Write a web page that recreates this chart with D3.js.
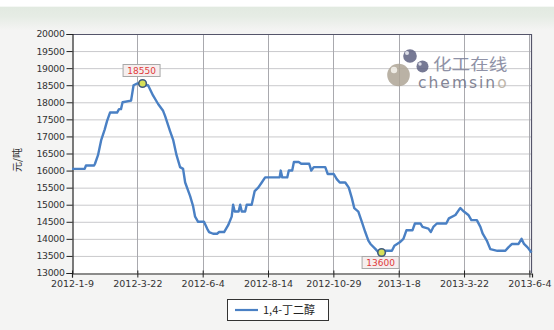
<!DOCTYPE html>
<html>
<head>
<meta charset="utf-8">
<script src="https://cdn.jsdelivr.net/npm/d3@7"></script>
<style>
  html, body { margin: 0; padding: 0; background: #f4f4f3; }
  svg { display: block; }
</style>
</head>
<body>
<svg id="chart" width="554" height="330"></svg>
<script>
// Trading-day offsets from 2012-1-9 and the 1,4-丁二醇 price (元/吨) on each
const tradingDays = [
  0, 9.7, 10.7, 16.9, 17.6, 19.9, 22.4, 25, 26.8, 29.1, 34.5, 36, 37.5, 38.7, 45.2, 47.1, 49.8, 54,
  56.7, 58.2, 62, 65.9, 69.7, 71.2, 75.1, 77.4, 80, 82.7, 85, 86.6, 90.4, 92.7, 94.2, 96.5, 101,
  103.4, 104.9, 108, 111, 112.6, 116.4, 119.5, 122.2, 123.3, 124.5, 127.5, 128.7, 129.9, 132.5,
  133.7, 137.5, 139.8, 142.5, 145.2, 147.8, 158.9, 159.7, 160.9, 164.7, 165.9, 168.5, 169.8,
  173.5, 175.4, 181.5, 183.1, 185, 193.8, 195.7, 200.3, 202.6, 204.9, 209.1, 211.8, 214.1, 216,
  219.1, 221.8, 224.4, 226.8, 228.4, 232.3, 234.6, 236.9, 239.9, 244.8, 246.7, 250.8, 253.6,
  255.9, 260.5, 262.4, 266.6, 268.2, 272.7, 274.6, 276.5, 279.2, 286.4, 288.4, 293.4, 296.1,
  297.2, 299.9, 303.3, 305.6, 309.8, 312.5, 314.3, 317.4, 320.1, 325.5, 329.3, 331.6, 333.9,
  336.7, 341.7, 344, 345.9, 348.6, 351.6
];
const prices = [
  16050, 16050, 16150, 16150, 16200, 16450, 16900, 17200, 17450, 17700, 17700, 17800, 17800, 18000, 18050, 18500, 18550, 18550,
  18500, 18500, 18200, 17950, 17750, 17600, 17150, 16900, 16450, 16100, 16050, 15650, 15250, 14950, 14650, 14500, 14500,
  14300, 14200, 14150, 14150, 14200, 14200, 14400, 14650, 15000, 14800, 14800, 15000, 14800, 14800,
  15000, 15000, 15400, 15500, 15650, 15800, 15800, 16000, 15800, 15800, 16000, 16000, 16250,
  16250, 16200, 16200, 16000, 16100, 16100, 15900, 15900, 15750, 15650, 15650, 15500, 15200, 14900,
  14800, 14500, 14200, 13950, 13850, 13700, 13600, 13600, 13650, 13650, 13800, 13900, 14000,
  14250, 14250, 14450, 14450, 14350, 14300, 14200, 14350, 14450, 14450, 14600, 14700, 14850,
  14900, 14800, 14700, 14550, 14550, 14350, 14150, 13950, 13700, 13650, 13650, 13650, 13750,
  13850, 13850, 14000, 13850, 13750, 13600
];

// Axis labels
const xTickDays = [0, 50, 100, 150, 200, 250, 300, 350];
const xTickLabels = ["2012-1-9", "2012-3-22", "2012-6-4", "2012-8-14", "2012-10-29", "2013-1-8", "2013-3-22", "2013-6-4"];
const yTicks = [13000, 13500, 14000, 14500, 15000, 15500, 16000, 16500, 17000, 17500, 18000, 18500, 19000, 19500, 20000];
const seriesName = "1,4-丁二醇";
const yTitle = "元/吨";

// The highest and lowest prices get a value tag, placed on the last day
// of the first run in which that price held
function endOfFirstRun(v) {
  let i = prices.indexOf(v);
  while (i + 1 < prices.length && prices[i + 1] === v) i++;
  return i;
}
const maxIdx = endOfFirstRun(d3.max(prices));
const minIdx = endOfFirstRun(d3.min(prices));

const svg = d3.select("#chart");
const W = 554, H = 330;
const m = { left: 72, right: 22, top: 34, bottom: 57 };
const plotW = W - m.left - m.right;
const plotH = H - m.top - m.bottom;

// Page background with the pale band across the top
const defs = svg.append("defs");
const band = defs.append("linearGradient").attr("id", "band").attr("x1", 0).attr("y1", 0).attr("x2", 0).attr("y2", 1);
band.append("stop").attr("offset", "0").attr("stop-color", "#ffffff");
band.append("stop").attr("offset", "0.2").attr("stop-color", "#ffffff");
band.append("stop").attr("offset", "0.25").attr("stop-color", "#e2eae1");
band.append("stop").attr("offset", "0.55").attr("stop-color", "#e6ece5");
band.append("stop").attr("offset", "1").attr("stop-color", "#f4f4f3");
svg.append("rect").attr("width", W).attr("height", 30).attr("fill", "url(#band)");

const x = d3.scaleLinear().domain([0, 352]).range([m.left, m.left + plotW]);
const y = d3.scaleLinear().domain([13000, 20000]).range([m.top + plotH, m.top]);

// Plot background
svg.append("rect")
  .attr("x", m.left).attr("y", m.top).attr("width", plotW).attr("height", plotH)
  .attr("fill", "#ffffff");

// Horizontal grid lines
svg.append("g").selectAll("line").data(yTicks.slice(1)).join("line")
  .attr("x1", m.left).attr("x2", m.left + plotW)
  .attr("y1", d => y(d) + 0.5).attr("y2", d => y(d) + 0.5)
  .attr("stroke", "#c9c9cc").attr("stroke-width", 1);

// Vertical grid lines
svg.append("g").selectAll("line").data(xTickDays.slice(1)).join("line")
  .attr("x1", d => Math.round(x(d)) + 0.5).attr("x2", d => Math.round(x(d)) + 0.5)
  .attr("y1", m.top).attr("y2", m.top + plotH)
  .attr("stroke", "#a9a9ae").attr("stroke-width", 1);

// Frame on top and right
svg.append("path")
  .attr("d", `M${m.left},${m.top + 0.5}H${m.left + plotW - 0.5}V${m.top + plotH}`)
  .attr("fill", "none").attr("stroke", "#55556a").attr("stroke-width", 1.2);

// Watermark logo
const logo = svg.append("g").attr("opacity", 0.85);
logo.append("circle").attr("cx", 398.5).attr("cy", 75).attr("r", 11.3).attr("fill", "#aea596");
logo.append("circle").attr("cx", 394).attr("cy", 70).attr("r", 3.2).attr("fill", "#ece8e0");
logo.append("circle").attr("cx", 410).attr("cy", 56).attr("r", 6.8).attr("fill", "#5f6282");
logo.append("circle").attr("cx", 422.5).attr("cy", 66.5).attr("r", 6).attr("fill", "#5f6282");
logo.append("circle").attr("cx", 407).attr("cy", 53).attr("r", 2).attr("fill", "#d8dae4");
logo.append("circle").attr("cx", 420).attr("cy", 64).attr("r", 1.7).attr("fill", "#d8dae4");
logo.append("text")
  .attr("transform", "translate(433,69.5) scale(1.2,1)")
  .attr("font-family", "Noto Sans CJK SC").attr("font-size", 15.5)
  .attr("fill", "#7c7f98").text("化工在线");
const brand = logo.append("text").attr("x", 418).attr("y", 88)
  .attr("font-family", "DejaVu Sans").attr("font-size", 15.5)
  .attr("letter-spacing", 2).attr("fill", "#6e7084");
brand.append("tspan").text("chemsin");
brand.append("tspan").attr("fill", "#b6ac9c").text("o");

// Y axis
const yAxis = d3.axisLeft(y).tickValues(yTicks).tickSize(6).tickPadding(2).tickFormat(d3.format("d"));
const gy = svg.append("g").attr("transform", `translate(${m.left + 0.5},0)`).call(yAxis);
gy.select(".domain").attr("stroke", "#222").attr("stroke-width", 1.2);
gy.selectAll(".tick line").attr("stroke", "#222");
gy.selectAll("text").attr("font-family", "DejaVu Sans").attr("font-size", 9.3).attr("fill", "#333")
  .attr("letter-spacing", -0.3);

// X axis
const xAxis = d3.axisBottom(x).tickValues(xTickDays).tickSize(4).tickPadding(3)
  .tickFormat((d, i) => xTickLabels[i]);
const gx = svg.append("g").attr("transform", `translate(0,${m.top + plotH + 0.5})`).call(xAxis);
gx.select(".domain").attr("stroke", "#222").attr("stroke-width", 1.2);
gx.selectAll(".tick line").attr("stroke", "#222").attr("y1", -3);
gx.selectAll("text").attr("font-family", "DejaVu Sans").attr("font-size", 9.5).attr("fill", "#333");

// Y axis title
svg.append("text")
  .attr("transform", "translate(21,160) rotate(-90)")
  .attr("text-anchor", "middle")
  .attr("font-family", "Noto Sans CJK SC").attr("font-size", 10).attr("fill", "#333")
  .text(yTitle);

// Price line
const line = d3.line().x((d, i) => x(tradingDays[i])).y(d => y(d));
svg.append("path").datum(prices)
  .attr("d", line)
  .attr("fill", "none").attr("stroke", "#4a80c4").attr("stroke-width", 2.4)
  .attr("stroke-linejoin", "round");

// Value tags for the extremes
function tag(idx, above) {
  const cx = x(tradingDays[idx]), cy = y(prices[idx]);
  const g = svg.append("g");
  const bw = 37, bh = 12;
  const by = above ? cy - 19 : cy + 4;
  g.append("rect").attr("x", cx - bw / 2 - 1).attr("y", by).attr("width", bw).attr("height", bh)
    .attr("fill", "#f6eeee").attr("stroke", "#a8a8a8").attr("stroke-width", 1);
  g.append("text").attr("x", cx - 1).attr("y", by + 9.5).attr("text-anchor", "middle")
    .attr("font-family", "DejaVu Sans").attr("font-size", 9).attr("fill", "#e03a3a")
    .text(prices[idx]);
  g.append("circle").attr("cx", cx).attr("cy", cy).attr("r", 3.8)
    .attr("fill", "#d6df58").attr("stroke", "#3e5a7e").attr("stroke-width", 1.6);
}
tag(maxIdx, true);
tag(minIdx, false);

// Legend
const lg = svg.append("g");
lg.append("rect").attr("x", 227.5).attr("y", 299.5).attr("width", 101).attr("height", 21)
  .attr("fill", "#ffffff").attr("stroke", "#333").attr("stroke-width", 1);
lg.append("line").attr("x1", 235).attr("x2", 258).attr("y1", 310).attr("y2", 310)
  .attr("stroke", "#4a80c4").attr("stroke-width", 2.2);
lg.append("text").attr("x", 263).attr("y", 314)
  .attr("font-family", "Noto Sans CJK SC").attr("font-size", 11).attr("fill", "#222")
  .text(seriesName);
</script>
</body>
</html>
